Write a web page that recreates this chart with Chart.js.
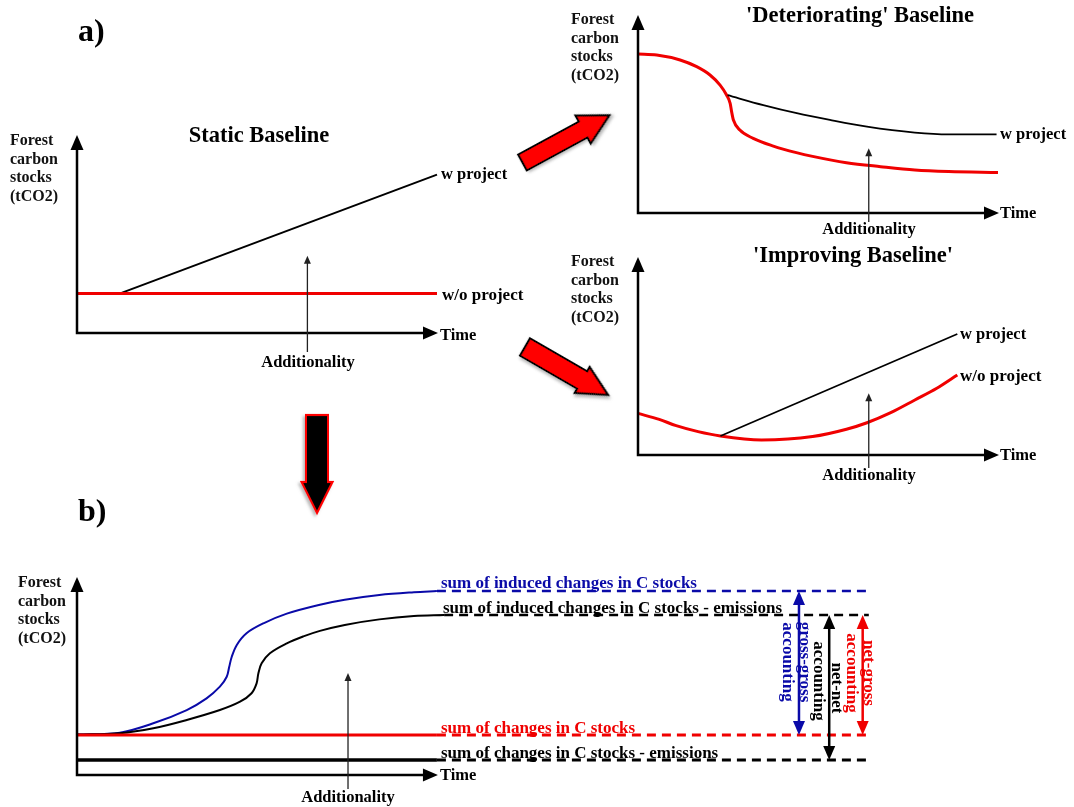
<!DOCTYPE html>
<html><head><meta charset="utf-8">
<script src="https://cdn.jsdelivr.net/npm/chart.js@4.4.1/dist/chart.umd.min.js"></script>
<style>
html,body{margin:0;padding:0;background:#fff;}
#stage{position:relative;width:1074px;height:807px;overflow:hidden;font-family:"Liberation Serif","Times New Roman",serif;font-weight:bold;color:#111;}
canvas{position:absolute;}
.t{position:absolute;white-space:nowrap;line-height:1;font-size:16px;z-index:5;}
.l{transform:translate(0,-50%);}
.c{transform:translate(-50%,-50%);}
.r{transform:translate(-50%,-50%) rotate(90deg);}
.ylab{position:absolute;line-height:18.5px;font-size:16px;z-index:5;}
svg{position:absolute;left:0;top:0;z-index:4;}
</style></head>
<body><div id="stage"></div>
<script>
// ---------- DATA (conceptual units: time 0..100, stocks 0..100) ----------
// a) Static baseline
const staticWithoutTime = [0, 100];
const staticWithout     = [20, 20];
const staticWithTime    = [12, 100];
const staticWith        = [20, 80];
const staticAdditionality = [64, 39];   // [time, arrow tip]

// a) 'Deteriorating' baseline
const detWithoutTime = [0, 5.2, 11.7, 16.3, 20, 22.8, 24.6, 25.6, 26, 26.5, 28.3, 32, 37.6, 44, 48.5, 57.9, 67.4, 76.9, 86.3, 100];
const detWithout     = [80.3, 79.8, 77.3, 73.9, 69.7, 64.6, 59.6, 55.4, 51.2, 47, 41.9, 37.7, 33.8, 30.5, 28.6, 25.4, 23.4, 21.7, 20.9, 20.4];
const detWithTime    = [24.9, 34.8, 44.1, 53.3, 63.6, 76.9, 86.3, 99.6];
const detWith        = [59.5, 54.5, 50.4, 47, 43.6, 40.6, 39.7, 39.7];
const detAdditionality = [64.1, 32.7];

// a) 'Improving' baseline
const impWithoutTime = [0, 5.9, 10.6, 16.7, 22.9, 34.3, 48.5, 57.9, 63.6, 70.2, 76.9, 83, 88.7];
const impWithout     = [21, 18, 14.8, 11.8, 9.6, 7.6, 9.3, 13, 16.3, 21.4, 27.8, 33.7, 40.4];
const impWithTime    = [22.9, 88.7];
const impWith        = [9.6, 61.1];
const impAdditionality = [64.1, 31.2];

// b) accounting
const inducedTime    = [0, 11.9, 21.2, 30.5, 36, 39.7, 41.6, 42.3, 43, 44.4, 47.1, 51.8, 58.3, 67.5, 74.4, 84, 93.6, 100];
const induced        = [20.4, 21.4, 26.1, 32.8, 38.7, 44.6, 49.6, 54.7, 59.7, 65.7, 71.6, 76.6, 81.5, 86, 88.5, 90.9, 92.3, 92.9];
const inducedNetTime = [0, 11.9, 21.2, 30.5, 39.7, 45.3, 48.5, 49.9, 50.4, 51.3, 53.6, 58.3, 62.9, 67.5, 74.4, 84, 93.6, 102];
const inducedNet     = [20.4, 21.1, 23.6, 27.8, 32.8, 37, 41.3, 46.3, 51.4, 56.4, 61.5, 66.5, 70, 72.8, 75.8, 78.6, 80.3, 80.8];
const changesTime    = [0, 100];
const changes        = [20.2, 20.2];
const changesNet     = [7.6, 7.6];
const extensionTime  = [100, 220];
const inducedNetExtTime = [102, 220];
const accAdditionality = [75.3, 51.5];
const accArrowTime   = [200.6, 209, 218.3];
const accArrowTop    = [92.9, 80.8, 80.8];
const accArrowBottom = [20.2, 7.6, 20.2];

// ---------- LAYOUT ----------
const RED = '#f00000', BLUE = '#0a0aa8', BLACK = '#000';
const LAYOUT = {
  stat: {left: 77, top: 135, w: 360, h: 198, xMax: 100},
  det:  {left: 638, top: 15, w: 360, h: 198, xMax: 100},
  imp:  {left: 638, top: 257, w: 360, h: 198, xMax: 100},
  acc:  {left: 77, top: 577, w: 799, h: 198, xMax: 222}
};
const PAD = {left: 20, right: 20, top: 20, bottom: 25};
const stage = document.getElementById('stage');

function pts(xs, ys) { return xs.map((x, i) => ({x, y: ys[i]})); }
function line(xs, ys, color, width, extra) {
  return Object.assign({data: pts(xs, ys), showLine: true, borderColor: color, backgroundColor: color,
    borderWidth: width, pointRadius: 0, fill: false, clip: 10, borderCapStyle: 'butt'}, extra || {});
}
function tri(ctx, x, y, dir, len, half) {
  ctx.beginPath();
  if (dir === 'up') { ctx.moveTo(x, y); ctx.lineTo(x - half, y + len); ctx.lineTo(x + half, y + len); }
  else if (dir === 'down') { ctx.moveTo(x, y); ctx.lineTo(x - half, y - len); ctx.lineTo(x + half, y - len); }
  else { ctx.moveTo(x, y); ctx.lineTo(x - len, y - half); ctx.lineTo(x - len, y + half); }
  ctx.closePath(); ctx.fill();
}

const diagramPlugin = {
  id: 'diagram',
  afterDatasetsDraw(chart, args, o) {
    const {ctx, chartArea: a, scales: {x, y}} = chart;
    ctx.save();
    ctx.fillStyle = '#000'; ctx.strokeStyle = '#000';
    // axes with arrow heads
    const xEnd = x.getPixelForValue(o.axisEnd) + 1;
    ctx.lineWidth = 2.5;
    ctx.beginPath(); ctx.moveTo(a.left, a.top + 12); ctx.lineTo(a.left, a.bottom); ctx.lineTo(xEnd - 12, a.bottom); ctx.stroke();
    tri(ctx, a.left, a.top, 'up', 15, 6.5);
    tri(ctx, xEnd, a.bottom, 'right', 15, 6.5);
    // additionality arrow
    const ax = x.getPixelForValue(o.add[0]), at = y.getPixelForValue(o.add[1]);
    ctx.strokeStyle = '#222'; ctx.fillStyle = '#222'; ctx.lineWidth = 1.3;
    ctx.beginPath(); ctx.moveTo(ax, a.bottom + o.addBelow); ctx.lineTo(ax, at + 6); ctx.stroke();
    tri(ctx, ax, at, 'up', 8, 3.5);
    // double arrows (accounting)
    if (o.arrows) {
      o.arrows.forEach(ar => {
        const px = x.getPixelForValue(ar.x), p1 = y.getPixelForValue(ar.top), p2 = y.getPixelForValue(ar.bottom);
        ctx.strokeStyle = ar.color; ctx.fillStyle = ar.color; ctx.lineWidth = 2.5;
        ctx.beginPath(); ctx.moveTo(px, p1 + 10); ctx.lineTo(px, p2 - 10); ctx.stroke();
        tri(ctx, px, p1, 'up', 14, 6);
        tri(ctx, px, p2, 'down', 14, 6);
      });
    }
    ctx.restore();
  }
};

function makeChart(L, datasets, opts) {
  const cv = document.createElement('canvas');
  cv.width = L.w + PAD.left + PAD.right; cv.height = L.h + PAD.top + PAD.bottom;
  cv.style.left = (L.left - PAD.left) + 'px'; cv.style.top = (L.top - PAD.top) + 'px';
  stage.appendChild(cv);
  return new Chart(cv, {
    type: 'scatter',
    data: {datasets},
    options: {
      responsive: false, animation: false, devicePixelRatio: 1,
      layout: {padding: PAD},
      scales: {
        x: {type: 'linear', min: 0, max: L.xMax, display: false},
        y: {type: 'linear', min: 0, max: 100, display: false}
      },
      plugins: {legend: {display: false}, tooltip: {enabled: false}, diagram: opts},
      events: []
    },
    plugins: [diagramPlugin]
  });
}

const mono = {cubicInterpolationMode: 'monotone'};
const smooth = {tension: 0.35};

makeChart(LAYOUT.stat, [
  line(staticWithoutTime, staticWithout, RED, 3),
  line(staticWithTime, staticWith, BLACK, 2)
], {axisEnd: 100, add: staticAdditionality, addBelow: 19});

makeChart(LAYOUT.det, [
  line(detWithTime, detWith, BLACK, 1.8, mono),
  line(detWithoutTime, detWithout, RED, 3, mono)
], {axisEnd: 100, add: detAdditionality, addBelow: 9});

makeChart(LAYOUT.imp, [
  line(impWithTime, impWith, BLACK, 1.8),
  line(impWithoutTime, impWithout, RED, 3, mono)
], {axisEnd: 100, add: impAdditionality, addBelow: 13});

const dash = {borderDash: [9, 6]};
makeChart(LAYOUT.acc, [
  line(changesTime, changesNet, BLACK, 3.5),
  line(changesTime, changes, RED, 3),
  line(inducedNetTime, inducedNet, BLACK, 2, smooth),
  line(inducedTime, induced, BLUE, 2, smooth),
  line(extensionTime, [induced[induced.length - 1], induced[induced.length - 1]], BLUE, 2.5, dash),
  line(inducedNetExtTime, [inducedNet[inducedNet.length - 1], inducedNet[inducedNet.length - 1]], BLACK, 2.5, dash),
  line(extensionTime, [changes[0], changes[0]], RED, 3, dash),
  line(extensionTime, [changesNet[0], changesNet[0]], BLACK, 3, dash)
], {axisEnd: 100, add: accAdditionality, addBelow: 14,
    arrows: accArrowTime.map((t, i) => ({x: t, top: accArrowTop[i], bottom: accArrowBottom[i], color: [BLUE, BLACK, RED][i]}))});

// ---------- TEXT ----------
const texts = [
  ['a)', 78, 30, 'l', 32, BLACK],
  ['b)', 78, 510, 'l', 32, BLACK],
  ['Static Baseline', 259, 135, 'c', 22.5, BLACK],
  ["'Deteriorating' Baseline", 860, 15, 'c', 22.5, BLACK],
  ["'Improving Baseline'", 853, 255, 'c', 22.5, BLACK],
  ['w project', 441, 174, 'l', 16.5, BLACK],
  ['w/o project', 442, 294, 'l', 17, BLACK],
  ['Time', 440, 335, 'l', 16.5, BLACK],
  ['Additionality', 308, 362, 'c', 16.5, BLACK],
  ['w project', 1000, 134, 'l', 16.5, BLACK],
  ['Time', 1000, 213, 'l', 16.5, BLACK],
  ['Additionality', 869, 229, 'c', 16.5, BLACK],
  ['w project', 960, 334, 'l', 16.5, BLACK],
  ['w/o project', 960, 375, 'l', 17, BLACK],
  ['Time', 1000, 455, 'l', 16.5, BLACK],
  ['Additionality', 869, 475, 'c', 16.5, BLACK],
  ['Time', 440, 775, 'l', 16.5, BLACK],
  ['Additionality', 348, 797, 'c', 16.5, BLACK],
  ['sum of induced changes in C stocks', 441, 582, 'l', 17, BLUE],
  ['sum of induced changes in C stocks - emissions', 443, 607, 'l', 17, BLACK],
  ['sum of changes in C stocks', 441, 727, 'l', 17, RED],
  ['sum of changes in C stocks - emissions', 441, 752, 'l', 17, BLACK],
  ['gross-gross', 805, 662, 'r', 17, BLUE],
  ['accounting', 788, 662, 'r', 17, BLUE],
  ['net-net', 837, 688, 'r', 17, BLACK],
  ['accounting', 819, 681, 'r', 17, BLACK],
  ['net-gross', 869, 673, 'r', 17, RED],
  ['accounting', 852, 673, 'r', 17, RED]
];
texts.forEach(([s, x, y, cls, fs, col]) => {
  const d = document.createElement('div');
  d.className = 't ' + cls; d.textContent = s;
  d.style.left = x + 'px'; d.style.top = y + 'px'; d.style.fontSize = fs + 'px'; d.style.color = col;
  stage.appendChild(d);
});
[[10, 131], [571, 10], [571, 252], [18, 573]].forEach(([x, y]) => {
  const d = document.createElement('div');
  d.className = 'ylab'; d.style.left = x + 'px'; d.style.top = y + 'px';
  d.innerHTML = 'Forest<br>carbon<br>stocks<br>(tCO2)';
  stage.appendChild(d);
});

// ---------- BIG FLOW ARROWS ----------
const NS = 'http://www.w3.org/2000/svg';
const svg = document.createElementNS(NS, 'svg');
svg.setAttribute('width', 1074); svg.setAttribute('height', 807);
svg.innerHTML = '<defs><filter id="sh" x="-20%" y="-20%" width="140%" height="140%"><feDropShadow dx="2" dy="2" stdDeviation="1.5" flood-color="#888" flood-opacity="0.6"/></filter></defs>';
function blockArrow(tx, ty, ang, L, w, h, hl, fill, stroke) {
  const p = document.createElementNS(NS, 'polygon');
  const pts = [[0, -w], [L - hl, -w], [L - hl, -h], [L, 0], [L - hl, h], [L - hl, w], [0, w]];
  p.setAttribute('points', pts.map(q => q.join(',')).join(' '));
  p.setAttribute('transform', `translate(${tx},${ty}) rotate(${ang})`);
  p.setAttribute('fill', fill); p.setAttribute('stroke', stroke); p.setAttribute('stroke-width', 2.2);
  p.setAttribute('stroke-linejoin', 'miter'); p.setAttribute('filter', 'url(#sh)');
  svg.appendChild(p);
}
blockArrow(522.5, 162.5, -28.5, 99, 9, 16, 30, '#ff0000', '#000');
blockArrow(525, 347, 30, 96, 10, 15, 30, '#ff0000', '#000');
blockArrow(317, 415, 90, 98, 11, 15.5, 31, '#000', '#ff0000');
stage.appendChild(svg);
</script>
</body></html>
